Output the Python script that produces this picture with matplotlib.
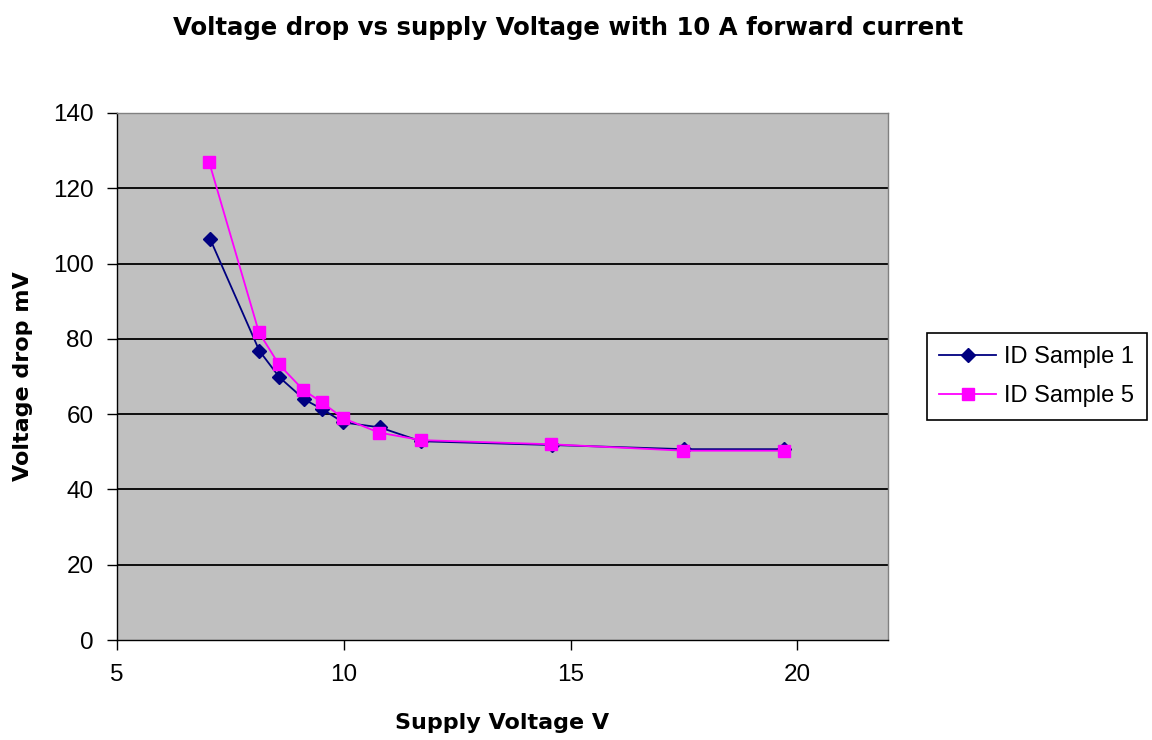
import matplotlib
matplotlib.use("Agg")
from matplotlib import pyplot as plt

plt.rcParams['font.family'] = ['Liberation Sans', 'DejaVu Sans']

# supply voltage (V) and voltage drop (mV)
x_s1 = [7.05, 8.14, 8.58, 9.13, 9.53, 9.99, 10.79, 11.7, 14.6, 17.5, 19.7]
y_s1 = [106.6, 76.8, 69.8, 63.9, 61.3, 57.8, 56.5, 52.8, 51.8, 50.7, 50.7]

x_s5 = [7.03, 8.13, 8.57, 9.11, 9.51, 9.99, 10.78, 11.7, 14.57, 17.49, 19.7]
y_s5 = [127.0, 81.7, 73.2, 66.4, 63.2, 58.9, 55.1, 53.1, 52.0, 50.3, 50.3]

x_ticks = [5, 10, 15, 20]
y_ticks = [0, 20, 40, 60, 80, 100, 120, 140]

bold = ['DejaVu Sans']

fig = plt.figure(figsize=(11.52, 7.4), dpi=100)
ax = fig.add_axes([0.1016, 0.1351, 0.6692, 0.7122])
ax.set_facecolor('#C0C0C0')

for y in y_ticks[1:-1]:
    ax.axhline(y, color='black', lw=1.3, zorder=1)

ax.plot(x_s1, y_s1, color='#000080', lw=1.3, marker='D', ms=7,
        mfc='#000080', mec='#000080', label='ID Sample 1', zorder=3)
ax.plot(x_s5, y_s5, color='#FF00FF', lw=1.3, marker='s', ms=8.5,
        mfc='#FF00FF', mec='#FF00FF', label='ID Sample 5', zorder=4)

ax.set_xlim(5, 22)
ax.set_ylim(0, 140)
ax.set_xticks(x_ticks)
ax.set_yticks(y_ticks)
ax.tick_params(direction='out', length=7, width=1, labelsize=17.5, colors='black')
ax.tick_params(axis='x', pad=10)
ax.tick_params(axis='y', pad=10)
for s in ax.spines.values():
    s.set_color('#808080')
    s.set_linewidth(1)
ax.spines['left'].set_color('black')
ax.spines['bottom'].set_color('black')

ax.set_xlabel('Supply Voltage V', fontsize=16, fontweight='bold', family=bold, labelpad=20)
ax.set_ylabel('Voltage drop mV', fontsize=16, fontweight='bold', family=bold, labelpad=14)
fig.text(0.493, 0.962, 'Voltage drop vs supply Voltage with 10 A forward current',
         ha='center', va='center', fontsize=17.6, fontweight='bold', family=bold)

leg = ax.legend(loc='center left', bbox_to_anchor=(1.05, 0.5), fontsize=17,
                frameon=True, fancybox=False, edgecolor='black', framealpha=1,
                handlelength=2.4, borderpad=0.55, labelspacing=0.7, handletextpad=0.35,
                borderaxespad=0)
leg.get_frame().set_linewidth(1.2)

fig.savefig('out.png', dpi=100)
